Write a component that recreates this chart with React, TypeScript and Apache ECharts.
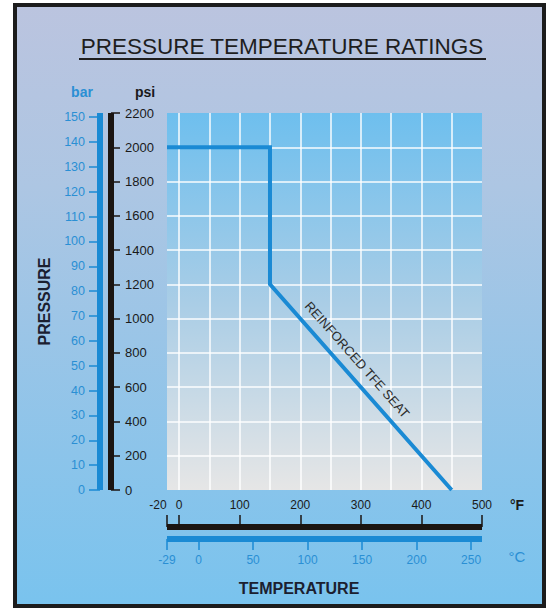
import React, { useEffect, useRef } from "react";
import * as echarts from "echarts";

// ---- data ----
const fahrenheitRange = [-20, 500];
const celsiusRange = [-29, 260];
const psiRange = [0, 2200];
const psiPerBar = 14.5038;
const fahrenheitTicks = [-20, 0, 100, 200, 300, 400, 500];
const celsiusTicks = [-29, 0, 50, 100, 150, 200, 250];
const barTicks = [0, 10, 20, 30, 40, 50, 60, 70, 80, 90, 100, 110, 120, 130, 140, 150];
const ratingTempF = [-20, 150, 150, 450];
const ratingPsi = [2000, 2000, 1200, 0];
const seatLabel = "REINFORCED TFE SEAT";
const titleText = "PRESSURE TEMPERATURE RATINGS";

const FONT = "'Liberation Sans', Arial, Helvetica, sans-serif";
const BLUE = "#1a8ad4";
const BLUE_TEXT = "#2a8fd4";
const BLACK = "#1b1512";

const centered = {
  textAlign: "center",
  textVerticalAlign: "middle",
  align: "center",
  verticalAlign: "middle",
};

export default function App() {
  const ref = useRef<HTMLDivElement>(null);

  useEffect(() => {
    document.body.style.margin = "0";
    if (!ref.current) return;
    const chart = echarts.init(ref.current, undefined, { renderer: "svg" });

    const lineData = ratingTempF.map((t, i) => [t, ratingPsi[i]]);

    const option: any = {
      animation: false,
      graphic: [
        {
          type: "rect",
          z: -10,
          shape: { x: 15, y: 5, width: 529, height: 601 },
          style: {
            fill: new echarts.graphic.LinearGradient(0, 0, 0, 1, [
              { offset: 0, color: "#bbc4df" },
              { offset: 0.3, color: "#adc6e3" },
              { offset: 1, color: "#79c3ee" },
            ]),
            stroke: "#1c1c1c",
            lineWidth: 4,
          },
        },
        {
          type: "text",
          x: 282,
          y: 46,
          style: { text: titleText, font: `22.5px ${FONT}`, fill: "#1e1e1e", ...centered },
        },
        {
          type: "line",
          shape: { x1: 79, y1: 59, x2: 486, y2: 59 },
          style: { stroke: "#1e1e1e", lineWidth: 2 },
        },
        {
          type: "text",
          x: 82,
          y: 92,
          style: { text: "bar", font: `bold 14px ${FONT}`, fill: BLUE_TEXT, ...centered },
        },
        {
          type: "text",
          x: 145,
          y: 92,
          style: { text: "psi", font: `bold 14px ${FONT}`, fill: "#1a1a1a", ...centered },
        },
        {
          type: "text",
          x: 517,
          y: 505,
          style: { text: "°F", font: `bold 14px ${FONT}`, fill: "#1a1a1a", ...centered },
        },
        {
          type: "text",
          x: 517,
          y: 556,
          style: { text: "°C", font: `15px ${FONT}`, fill: BLUE_TEXT, ...centered },
        },
        {
          type: "text",
          x: 299,
          y: 588,
          style: { text: "TEMPERATURE", font: `bold 16px ${FONT}`, fill: "#1b2030", ...centered },
        },
      ],
      grid: {
        left: 167,
        top: 113,
        width: 315,
        height: 377,
        show: true,
        borderWidth: 0,
        backgroundColor: new echarts.graphic.LinearGradient(0, 0, 0, 1, [
          { offset: 0, color: "#6ebfee" },
          { offset: 0.5, color: "#a9cde6" },
          { offset: 1, color: "#e6e6e6" },
        ]),
      },
      xAxis: [
        {
          type: "value",
          min: fahrenheitRange[0],
          max: fahrenheitRange[1],
          splitNumber: 10,
          axisLine: { show: false },
          axisTick: { show: false },
          axisLabel: { show: false },
          splitLine: {
            show: true,
            showMinLine: false,
            showMaxLine: false,
            lineStyle: { color: "rgba(255,255,255,0.95)", width: 1.5 },
          },
        },
        {
          type: "value",
          position: "bottom",
          offset: 37,
          min: fahrenheitRange[0],
          max: fahrenheitRange[1],
          axisLine: { show: true, onZero: false, lineStyle: { color: BLACK, width: 6, cap: "butt" } },
          axisTick: {
            show: true,
            inside: true,
            length: 12,
            customValues: fahrenheitTicks,
            lineStyle: { color: BLACK, width: 1.5 },
          },
          axisLabel: {
            show: true,
            inside: true,
            margin: 16,
            customValues: fahrenheitTicks,
            color: "#1a1a1a",
            fontSize: 12,
            fontFamily: FONT,
            formatter: (v: number) => (v < 0 ? `{neg|${v}}` : `${v}`),
            rich: {
              neg: { padding: [0, 18, 0, 0], fontSize: 12, color: "#1a1a1a", fontFamily: FONT },
            },
          },
          splitLine: { show: false },
        },
        {
          type: "value",
          position: "bottom",
          offset: 49,
          min: celsiusRange[0],
          max: celsiusRange[1],
          axisLine: { show: true, onZero: false, lineStyle: { color: BLUE, width: 6, cap: "butt" } },
          axisTick: {
            show: true,
            length: 11,
            customValues: celsiusTicks,
            lineStyle: { color: BLUE, width: 1.5 },
          },
          axisLabel: {
            show: true,
            margin: 15,
            customValues: celsiusTicks,
            color: BLUE_TEXT,
            fontSize: 12,
            fontFamily: FONT,
          },
          splitLine: { show: false },
        },
      ],
      yAxis: [
        {
          type: "value",
          position: "left",
          offset: 56,
          min: psiRange[0],
          max: psiRange[1],
          interval: 200,
          axisLine: { show: true, onZero: false, lineStyle: { color: BLACK, width: 6, cap: "butt" } },
          axisTick: { show: true, inside: true, length: 9, lineStyle: { color: BLACK, width: 1.5 } },
          axisLabel: {
            show: true,
            inside: true,
            margin: 14,
            color: "#1a1a1a",
            fontSize: 13,
            fontFamily: FONT,
            formatter: (v: number) => String(v),
          },
          splitLine: {
            show: true,
            showMinLine: false,
            showMaxLine: false,
            lineStyle: { color: "rgba(255,255,255,0.95)", width: 1.5 },
          },
        },
        {
          type: "value",
          position: "left",
          offset: 67,
          min: psiRange[0] / psiPerBar,
          max: psiRange[1] / psiPerBar,
          name: "PRESSURE",
          nameLocation: "middle",
          nameGap: 48,
          nameRotate: 90,
          nameTextStyle: { fontWeight: "bold", fontSize: 16, color: "#1b2030", fontFamily: FONT },
          axisLine: { show: true, onZero: false, lineStyle: { color: BLUE, width: 6, cap: "butt" } },
          axisTick: {
            show: true,
            length: 11,
            customValues: barTicks,
            lineStyle: { color: BLUE, width: 1.5 },
          },
          axisLabel: {
            show: true,
            margin: 15,
            customValues: barTicks,
            color: BLUE_TEXT,
            fontSize: 12.5,
            fontFamily: FONT,
          },
          splitLine: { show: false },
        },
      ],
      series: [
        {
          type: "line",
          xAxisIndex: 0,
          yAxisIndex: 0,
          data: lineData,
          symbol: "none",
          lineStyle: { color: BLUE, width: 4, cap: "butt", join: "miter" },
          markLine: {
            silent: true,
            symbol: ["none", "none"],
            lineStyle: { color: "transparent", width: 0 },
            label: {
              show: true,
              position: "insideMiddleTop",
              formatter: seatLabel,
              color: "#2b2b2b",
              fontSize: 13,
              fontFamily: FONT,
              distance: 9,
              padding: [0, 46, 0, 0],
            },
            data: [
              [
                { coord: [ratingTempF[2], ratingPsi[2]] },
                { coord: [ratingTempF[3], ratingPsi[3]] },
              ],
            ],
          },
        },
      ],
    };

    chart.setOption(option);
    return () => chart.dispose();
  }, []);

  return <div ref={ref} style={{ width: 552, height: 610 }} />;
}
